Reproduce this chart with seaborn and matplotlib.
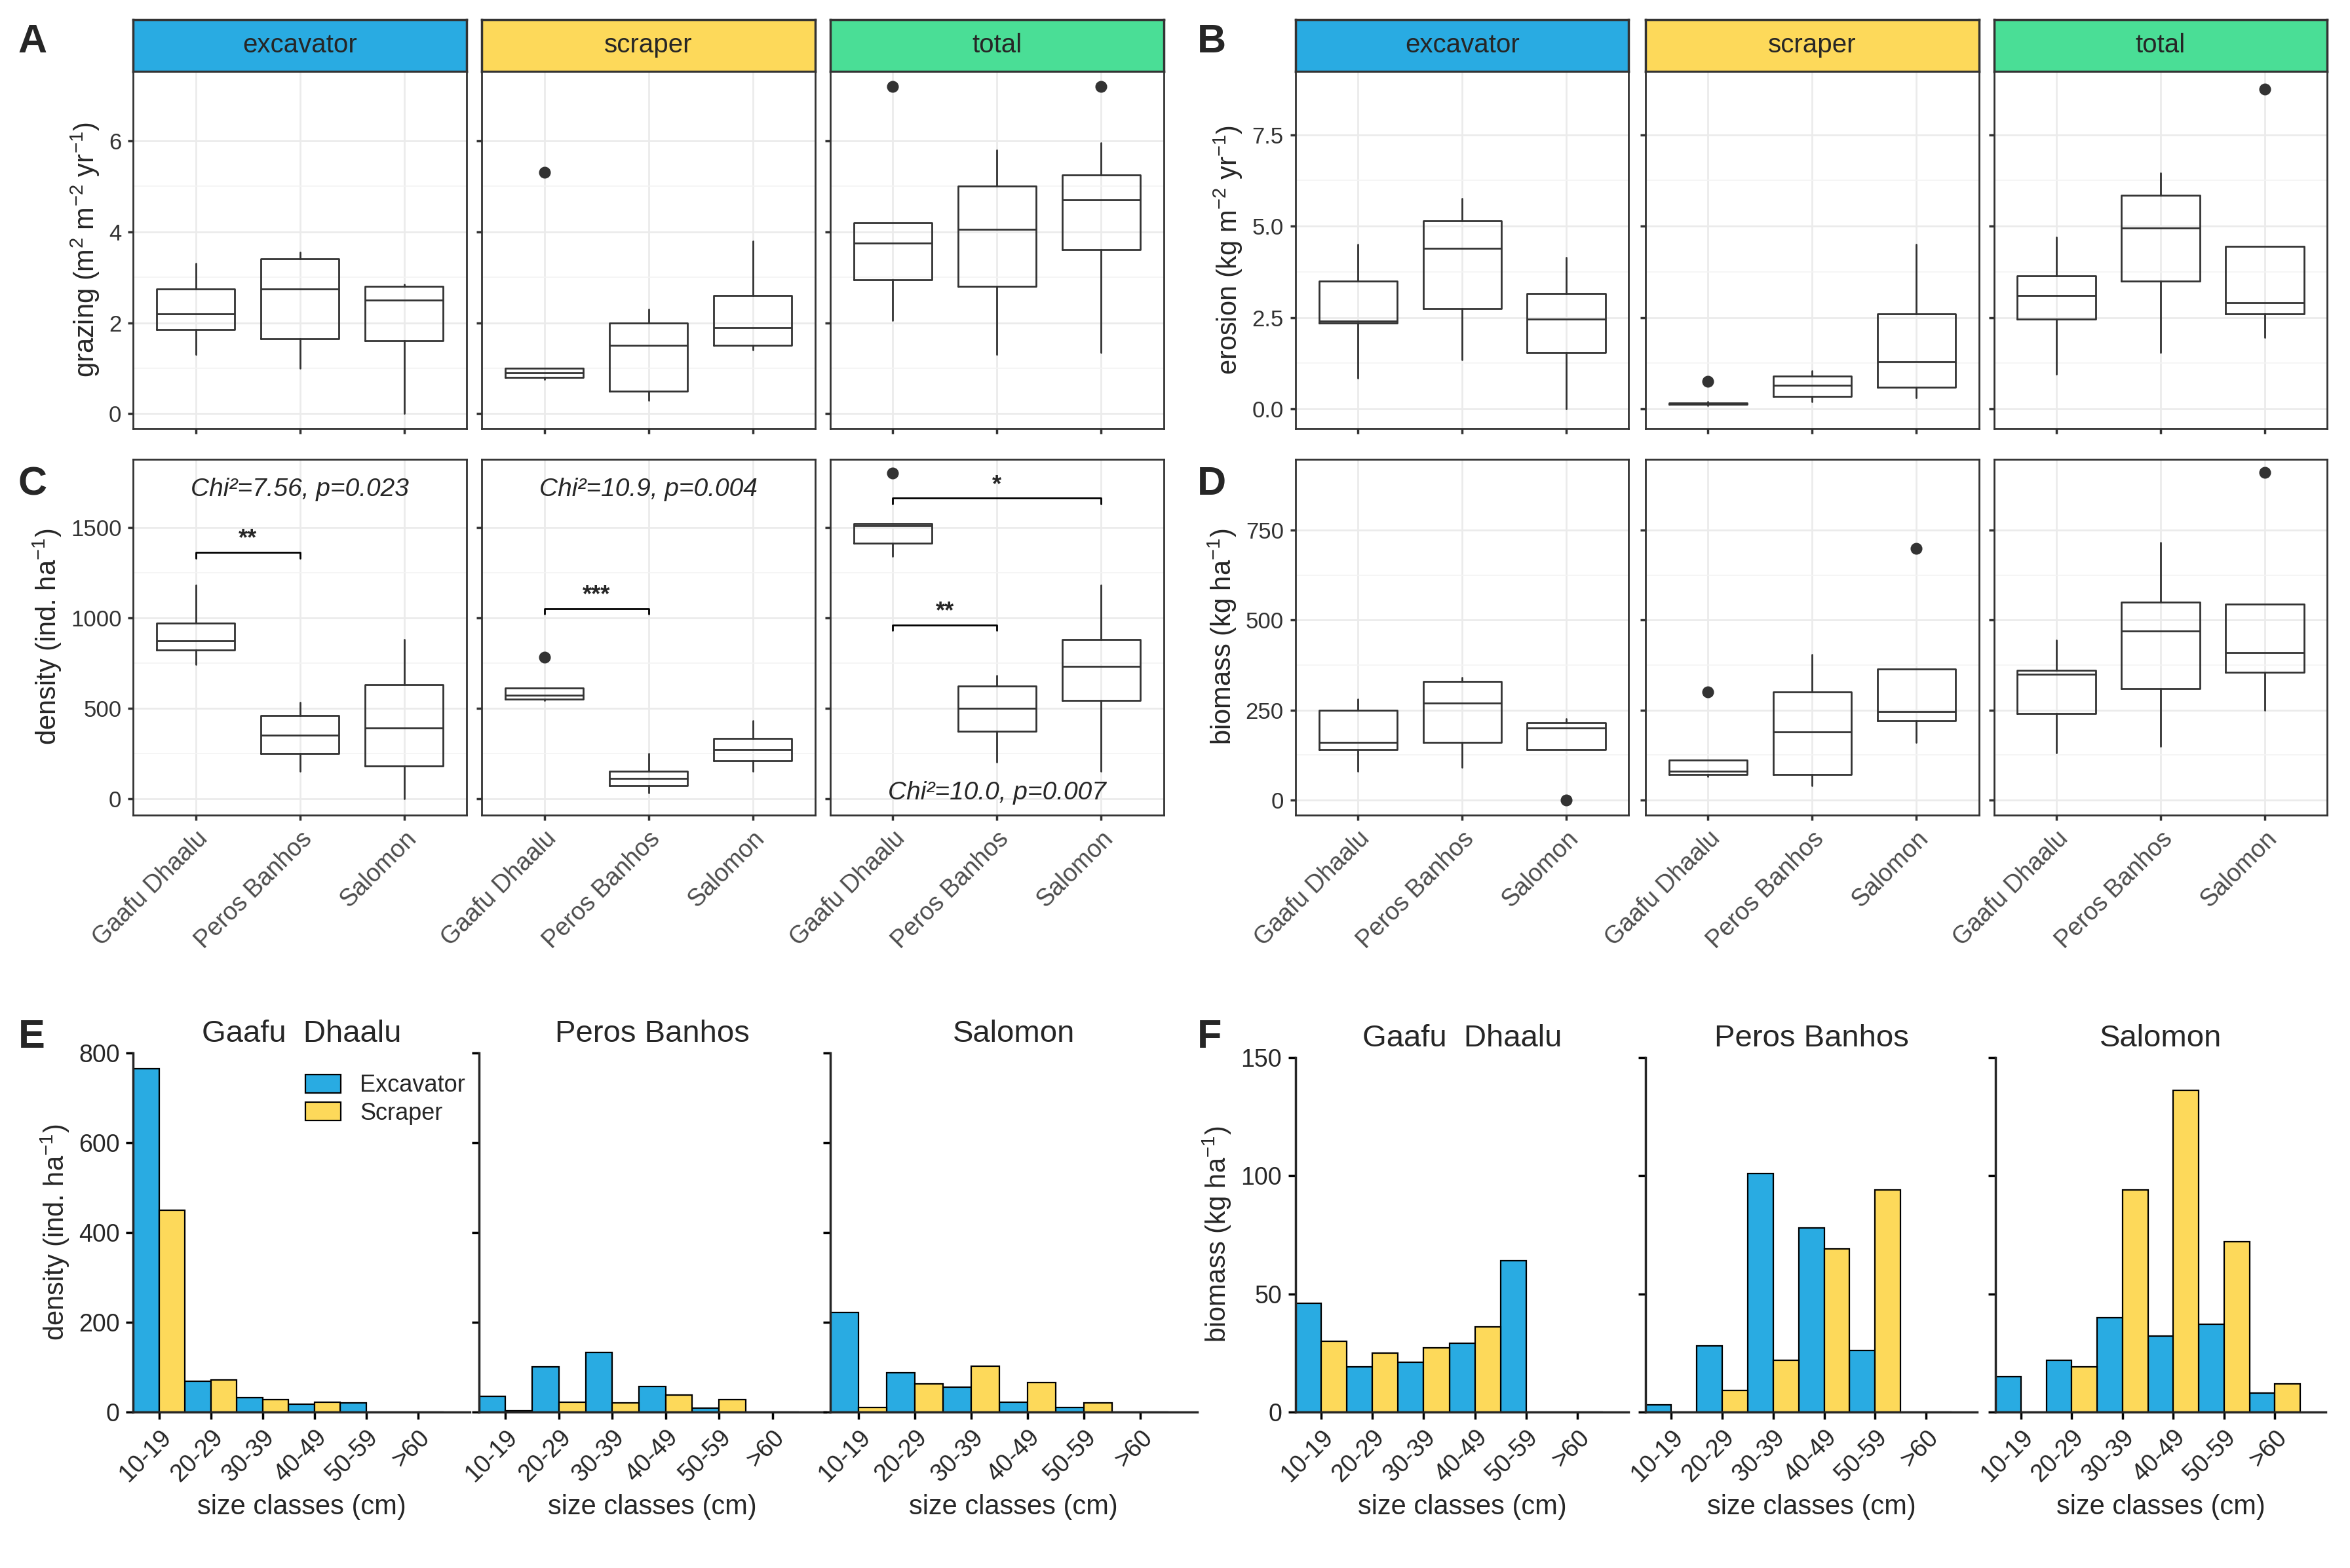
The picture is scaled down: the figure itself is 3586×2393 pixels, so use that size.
import numpy as np
import pandas as pd
import matplotlib
matplotlib.use("Agg")
import matplotlib.pyplot as plt
import seaborn as sns

SITES = ["Gaafu Dhaalu", "Peros Banhos", "Salomon"]
SITE_TITLES = ["Gaafu  Dhaalu", "Peros Banhos", "Salomon"]
GROUPS = ["excavator", "scraper", "total"]
STRIP_COLS = {"excavator": "#29ABE2", "scraper": "#FDD95A", "total": "#4ADE96"}
SIZE_CLASSES = ["10-19", "20-29", "30-39", "40-49", "50-59", ">60"]

# box stats per site: (whislo, q1, med, q3, whishi, fliers)
GRAZING = {
    "excavator": [(1.3, 1.85, 2.2, 2.75, 3.3, []), (1.0, 1.65, 2.75, 3.4, 3.55, []), (0.0, 1.6, 2.5, 2.8, 2.85, [])],
    "scraper": [(0.75, 0.8, 0.9, 1.0, 1.0, [5.3]), (0.3, 0.5, 1.5, 2.0, 2.3, []), (1.4, 1.5, 1.9, 2.6, 3.8, [])],
    "total": [(2.05, 2.95, 3.75, 4.2, 4.2, [7.2]), (1.3, 2.8, 4.05, 5.0, 5.8, []), (1.35, 3.6, 4.7, 5.25, 5.95, [7.2])],
}
EROSION = {
    "excavator": [(0.85, 2.35, 2.4, 3.5, 4.5, []), (1.35, 2.75, 4.4, 5.15, 5.75, []), (0.0, 1.55, 2.45, 3.15, 4.15, [])],
    "scraper": [(0.1, 0.12, 0.15, 0.17, 0.2, [0.75]), (0.2, 0.35, 0.65, 0.9, 1.05, []), (0.3, 0.6, 1.3, 2.6, 4.5, [])],
    "total": [(0.95, 2.45, 3.1, 3.65, 4.7, []), (1.55, 3.5, 4.95, 5.85, 6.45, []), (1.95, 2.6, 2.9, 4.45, 4.45, [8.75])],
}
DENSITY = {
    "excavator": [(740, 820, 870, 970, 1180, []), (150, 250, 350, 460, 530, []), (0, 180, 390, 630, 880, [])],
    "scraper": [(540, 550, 570, 610, 610, [780]), (30, 70, 110, 150, 250, []), (150, 210, 270, 330, 430, [])],
    "total": [(1340, 1410, 1510, 1520, 1520, [1800]), (200, 370, 500, 620, 680, []), (150, 540, 730, 880, 1180, [])],
}
BIOMASS = {
    "excavator": [(80, 140, 160, 250, 280, []), (90, 160, 270, 330, 340, []), (140, 140, 200, 215, 225, [0])],
    "scraper": [(65, 70, 80, 110, 110, [300]), (40, 70, 190, 300, 405, []), (160, 220, 245, 365, 365, [700])],
    "total": [(130, 240, 350, 360, 445, []), (150, 310, 470, 550, 715, []), (250, 355, 410, 545, 545, [910])],
}

DENS_EXC = {"Gaafu Dhaalu": [765, 68, 32, 18, 20, 0], "Peros Banhos": [35, 100, 133, 57, 8, 0], "Salomon": [222, 88, 55, 22, 10, 0]}
DENS_SCR = {"Gaafu Dhaalu": [450, 72, 28, 22, 0, 0], "Peros Banhos": [3, 22, 20, 38, 28, 0], "Salomon": [10, 62, 102, 65, 20, 0]}
BIOM_EXC = {"Gaafu Dhaalu": [46, 19, 21, 29, 64, 0], "Peros Banhos": [3, 28, 101, 78, 26, 0], "Salomon": [15, 22, 40, 32, 37, 8]}
BIOM_SCR = {"Gaafu Dhaalu": [30, 25, 27, 36, 0, 0], "Peros Banhos": [0, 9, 22, 69, 94, 0], "Salomon": [0, 19, 94, 136, 72, 12]}

sns.set_theme(style="ticks")
plt.rcParams["font.family"] = ["Liberation Sans", "DejaVu Sans"]
plt.rcParams["mathtext.default"] = "regular"
TICK = 12.5
LAB = 15

W, H = 1551, 1035
fig = plt.figure(figsize=(17.93, 11.965), dpi=200)


def rect(x0, y0, x1, y1):
    return [x0 / W, 1 - y1 / H, (x1 - x0) / W, (y1 - y0) / H]


def boxes(ax, stats, ylim, yticks, ytl, xlabels):
    bs = [dict(whislo=s[0], q1=s[1], med=s[2], q3=s[3], whishi=s[4], fliers=s[5]) for s in stats]
    ax.bxp(bs, positions=[0, 1, 2], widths=0.75, patch_artist=False,
           boxprops=dict(color="#333333", lw=1), medianprops=dict(color="#333333", lw=1),
           whiskerprops=dict(color="#333333", lw=1), capprops=dict(lw=0),
           flierprops=dict(marker="o", markerfacecolor="#333333", markeredgecolor="#333333", markersize=5.5))
    ax.set_xlim(-0.6, 2.6)
    ax.set_ylim(*ylim)
    ax.set_facecolor("white")
    ax.grid(True, color="#EBEBEB", lw=1)
    ax.set_axisbelow(True)
    ax.set_yticks(yticks)
    ax.set_yticks([(a + b) / 2 for a, b in zip(yticks[:-1], yticks[1:])], minor=True)
    ax.grid(True, which="minor", color="#F4F4F4", lw=0.6)
    ax.tick_params(which="minor", length=0)
    ax.set_yticklabels(ytl if ytl else [], fontsize=TICK, color="#333333")
    ax.set_xticks([0, 1, 2])
    if xlabels:
        ax.set_xticklabels(SITES, rotation=45, ha="right", rotation_mode="anchor", fontsize=TICK + 1, color="#4D4D4D")
    else:
        ax.set_xticklabels([])
    ax.tick_params(which="major", length=3, color="#333333")
    for sp in ax.spines.values():
        sp.set_color("#333333")
        sp.set_linewidth(1)


def strip(x0, x1, label):
    s = fig.add_axes(rect(x0, 13, x1, 47))
    s.set_facecolor(STRIP_COLS[label])
    s.set_xticks([]); s.set_yticks([])
    for sp in s.spines.values():
        sp.set_color("#333333")
    s.text(0.5, 0.5, label, ha="center", va="center", fontsize=14.5, transform=s.transAxes)


XA = [(88, 308), (318, 538), (548, 768)]
XB = [(855, 1075), (1086, 1306), (1316, 1536)]
CHI = 14

for i, g in enumerate(GROUPS):
    strip(*XA[i], g)
    strip(*XB[i], g)
    ax = fig.add_axes(rect(XA[i][0], 47, XA[i][1], 283))
    boxes(ax, GRAZING[g], (-0.33, 7.53), [0, 2, 4, 6], ["0", "2", "4", "6"] if i == 0 else None, False)
    if i == 0:
        ax.set_ylabel("grazing (m$^2$ m$^{-2}$ yr$^{-1}$)", fontsize=LAB)
    ax = fig.add_axes(rect(XB[i][0], 47, XB[i][1], 283))
    boxes(ax, EROSION[g], (-0.54, 9.24), [0, 2.5, 5, 7.5], ["0.0", "2.5", "5.0", "7.5"] if i == 0 else None, False)
    if i == 0:
        ax.set_ylabel("erosion (kg m$^{-2}$ yr$^{-1}$)", fontsize=LAB)

    ax = fig.add_axes(rect(XA[i][0], 303, XA[i][1], 538))
    boxes(ax, DENSITY[g], (-92, 1877), [0, 500, 1000, 1500], ["0", "500", "1000", "1500"] if i == 0 else None, True)
    if i == 0:
        ax.set_ylabel("density (ind. ha$^{-1}$)", fontsize=LAB)
        ax.text(1, 1710, "Chi²=7.56, p=0.023", ha="center", va="center", style="italic", fontsize=CHI)
        ax.plot([0, 0, 1, 1], [1330, 1360, 1360, 1330], color="black", lw=1)
        ax.text(0.5, 1370, "**", ha="center", va="bottom", fontsize=13, fontweight="bold")
    elif i == 1:
        ax.text(1, 1710, "Chi²=10.9, p=0.004", ha="center", va="center", style="italic", fontsize=CHI)
        ax.plot([0, 0, 1, 1], [1020, 1050, 1050, 1020], color="black", lw=1)
        ax.text(0.5, 1060, "***", ha="center", va="bottom", fontsize=13, fontweight="bold")
    else:
        ax.text(1, 30, "Chi²=10.0, p=0.007", ha="center", va="center", style="italic", fontsize=CHI)
        ax.plot([0, 0, 2, 2], [1630, 1660, 1660, 1630], color="black", lw=1)
        ax.text(1, 1670, "*", ha="center", va="bottom", fontsize=13, fontweight="bold")
        ax.plot([0, 0, 1, 1], [930, 960, 960, 930], color="black", lw=1)
        ax.text(0.5, 970, "**", ha="center", va="bottom", fontsize=13, fontweight="bold")

    ax = fig.add_axes(rect(XB[i][0], 303, XB[i][1], 538))
    boxes(ax, BIOMASS[g], (-42, 948), [0, 250, 500, 750], ["0", "250", "500", "750"] if i == 0 else None, True)
    if i == 0:
        ax.set_ylabel("biomass (kg ha$^{-1}$)", fontsize=LAB)


def bars(ax, site, exc, scr, ylim, yticks, show_y, legend):
    df = pd.DataFrame({
        "size": SIZE_CLASSES * 2,
        "value": exc[site] + scr[site],
        "group": ["Excavator"] * 6 + ["Scraper"] * 6,
    })
    sns.barplot(data=df, x="size", y="value", hue="group", ax=ax,
                palette=["#29ABE2", "#FDD95A"], edgecolor="black", linewidth=0.8,
                width=1.0, saturation=1, legend=legend)
    ax.set_ylim(*ylim)
    ax.set_yticks(yticks)
    ax.set_yticklabels([str(t) for t in yticks] if show_y else [], fontsize=TICK + 1)
    ax.set_xlim(-0.5, 6.0)
    ax.set_xticks(range(6))
    ax.set_xticklabels(SIZE_CLASSES, rotation=45, ha="right", rotation_mode="anchor", fontsize=TICK + 1)
    ax.set_xlabel("size classes (cm)", fontsize=LAB)
    ax.set_ylabel("")
    ax.set_title(SITE_TITLES[SITES.index(site)], fontsize=LAB + 2, pad=6)
    sns.despine(ax=ax)
    ax.tick_params(length=4, color="black")
    if legend:
        ax.legend(title=None, frameon=False, fontsize=13, loc="upper right",
                  bbox_to_anchor=(1.05, 1.0), handlelength=1.5, handleheight=0.8,
                  labelspacing=0.2)


XE = [(88, 310), (316, 545), (548, 790)]
XF = [(855, 1075), (1086, 1305), (1317, 1535)]
for i, site in enumerate(SITES):
    ax = fig.add_axes(rect(XE[i][0], 695, XE[i][1], 932))
    bars(ax, site, DENS_EXC, DENS_SCR, (0, 800), [0, 200, 400, 600, 800], i == 0, i == 0)
    if i == 0:
        ax.set_ylabel("density (ind. ha$^{-1}$)", fontsize=LAB)
    ax = fig.add_axes(rect(XF[i][0], 698, XF[i][1], 932))
    bars(ax, site, BIOM_EXC, BIOM_SCR, (0, 150), [0, 50, 100, 150], i == 0, False)
    if i == 0:
        ax.set_ylabel("biomass (kg ha$^{-1}$)", fontsize=LAB)

for lab, x, y in [("A", 12, 28), ("B", 790, 28), ("C", 12, 320), ("D", 790, 320), ("E", 12, 685), ("F", 790, 685)]:
    fig.text(x / W, 1 - y / H, lab, fontsize=22, fontweight="bold", va="center")

fig.savefig("out.png", dpi=200, facecolor="white")
